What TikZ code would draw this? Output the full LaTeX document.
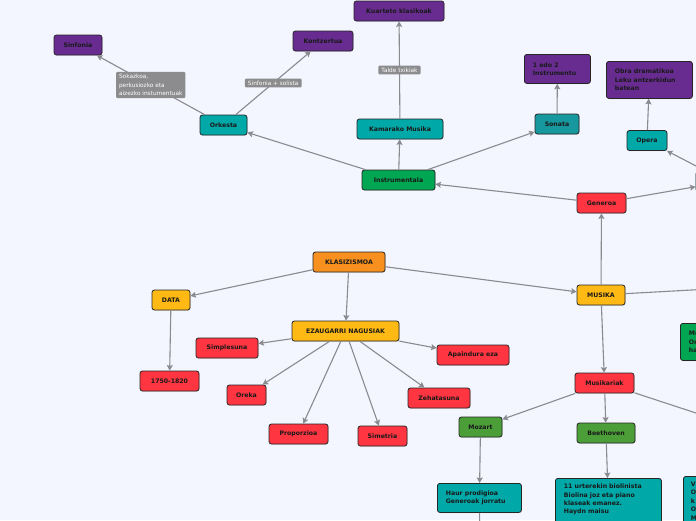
\documentclass[tikz,border=0pt]{standalone}
\usepackage{fontspec}
\setmainfont{DejaVu Sans}
\usetikzlibrary{shadows,arrows.meta}
\definecolor{bg}{HTML}{F3F6FF}
\definecolor{cpurp}{HTML}{682C91}
\definecolor{cteal}{HTML}{00A8A8}
\definecolor{cteal2}{HTML}{17979E}
\definecolor{cgrn}{HTML}{00A651}
\definecolor{cdgrn}{HTML}{4C9F38}
\definecolor{cred}{HTML}{FF3541}
\definecolor{corng}{HTML}{F7901E}
\definecolor{cyel}{HTML}{FFB914}
\definecolor{cedge}{HTML}{8A8A8F}
\definecolor{clbl}{HTML}{8C8C8E}
\begin{document}
\begin{tikzpicture}[x=1pt,y=-1pt,
  box/.style={draw=black!85, line width=0.8pt, rounded corners=2.5pt,
    font=\fontsize{6.2}{8.4}\selectfont\bfseries, text=black!90,
    inner xsep=0pt, inner ysep=0pt, minimum height=20pt,
    drop shadow={shadow xshift=0.5pt, shadow yshift=-0.7pt, opacity=0.3}},
  mbox/.style={box, align=left, inner xsep=8.5pt, inner ysep=5.5pt, anchor=north west},
  purp/.style={fill=cpurp}, teal/.style={fill=cteal}, teal2/.style={fill=cteal2},
  grn/.style={fill=cgrn}, dgrn/.style={fill=cdgrn}, redb/.style={fill=cred},
  orng/.style={fill=corng}, yel/.style={fill=cyel},
  arr/.style={draw=cedge, line width=1.1pt, -{Stealth[length=5.5pt,width=6pt,inset=1pt]}},
  lbl/.style={fill=clbl, text=white, font=\fontsize{5.8}{8.6}\selectfont,
    inner xsep=3pt, inner ysep=2.2pt, align=left, rounded corners=1pt}
]
\useasboundingbox (0,0) rectangle (696,520);
\fill[bg] (0,0) rectangle (696,520);
\clip (0,0) rectangle (696,520);

% nodes
\node[box,orng,minimum width=72pt] (klas) at (349,262) {KLASIZISMOA};
\node[box,yel,minimum width=38pt] (data) at (171,300) {DATA};
\node[box,yel,minimum width=107pt] (ezau) at (345.5,331) {EZAUGARRI NAGUSIAK};
\node[box,redb,minimum width=62pt] (simp) at (227,348) {Simplesuna};
\node[box,redb,minimum width=59pt] (years) at (169.5,381) {1750-1820};
\node[box,redb,minimum width=39pt] (oreka) at (246.5,395) {Oreka};
\node[box,redb,minimum width=59pt] (prop) at (298.5,434) {Proporzioa};
\node[box,redb,minimum width=49pt] (sime) at (382.5,436) {Simetria};
\node[box,redb,minimum width=62pt] (zeha) at (439,398) {Zehatasuna};
\node[box,redb,minimum width=72pt] (apai) at (473,355) {Apaindura eza};
\node[box,yel,minimum width=48pt] (musika) at (601,295) {MUSIKA};
\node[box,redb,minimum width=59pt] (musikariak) at (604.5,383) {Musikariak};
\node[box,dgrn,minimum width=43pt] (mozart) at (480.5,427) {Mozart};
\node[box,dgrn,minimum width=58pt] (beet) at (606,433) {Beethoven};
\node[mbox,teal,text width=67pt,minimum height=29pt,inner ysep=0pt] (haur) at (437,483) {Haur prodigioa\\Generoak jorratu};
\node[mbox,teal,text width=89pt] (urte) at (555,478) {11 urterekin biolinista\\Biolina joz eta piano\\klaseak emanez.\\Haydn maisu\\\rule{0pt}{10pt}};
\node[mbox,teal,text width=50pt,inner xsep=7.5pt] (vnode) at (683,476) {V\\O\\k\\O\\M};
\node[mbox,grn,text width=50pt,minimum height=37pt,inner ysep=0pt] (munode) at (680,323) {Mu\\Or\\ha};
\node[box,redb,minimum width=49pt] (generoa) at (601.5,203) {Generoa};
\node[box,teal,minimum width=60pt,anchor=west] (rgen) at (695.5,181.5) {};
\node[box,grn,minimum width=73pt] (instr) at (398.5,180) {Instrumentala};
\node[box,teal,minimum width=86pt] (kama) at (400,129) {Kamarako Musika};
\node[box,teal2,minimum width=44pt] (sonata) at (557,124) {Sonata};
\node[box,teal,minimum width=40pt] (opera) at (647,140.5) {Opera};
\node[mbox,purp,text width=69pt,minimum height=37pt,inner ysep=0pt] (obra) at (606,61) {Obra dramatikoa\\Leku antzerkidun\\batean};
\node[mbox,purp,text width=49pt,minimum height=29pt,inner ysep=0pt] (edo) at (524,54) {1 edo 2\\Instrumentu};
\node[box,purp,minimum width=90pt] (kuar) at (399,11) {Kuarteto klasikoak};
\node[box,teal,minimum width=47pt] (orkesta) at (223.5,125) {Orkesta};
\node[box,purp,minimum width=48pt] (sinf) at (78,45) {Sinfonia};
\node[box,purp,minimum width=60pt] (kont) at (323,41) {Kontzertua};

% off-canvas ends
\coordinate (offmus) at (764,286);
\coordinate (offmusk) at (760,434);
\coordinate (offhaur) at (480,545);

% connectors
\draw[arr] (klas) -- (data);
\draw[arr] (klas) -- (ezau);
\draw[arr] (klas) -- (musika);
\draw[arr] (data) -- (years);
\draw[arr] (ezau) -- (simp);
\draw[arr] (ezau) -- (oreka);
\draw[arr] (ezau) -- (prop);
\draw[arr] (ezau) -- (sime);
\draw[arr] (ezau) -- (zeha);
\draw[arr] (ezau) -- (apai);
\draw[arr] (musika) -- (generoa);
\draw[arr] (musika) -- (offmus);
\draw[arr] (musika) -- (musikariak);
\draw[arr] (musikariak) -- (mozart);
\draw[arr] (musikariak) -- (beet);
\draw[arr] (musikariak) -- (offmusk);
\draw[arr] (mozart) -- (haur);
\draw[arr] (haur) -- (offhaur);
\draw[arr] (beet) -- (urte);
\draw[arr] (generoa) -- (instr);
\draw[arr] (generoa) -- (rgen);
\draw[arr] (rgen) -- (opera);
\draw[arr] (opera) -- (obra);
\draw[arr] (sonata) -- (edo);
\draw[arr] (instr) -- (kama);
\draw[arr] (instr) -- (sonata);
\draw[arr] (instr) -- (orkesta);
\draw[arr] (kama) -- node[lbl] (l3) {Talde txikiak} (kuar);
\draw[arr] (orkesta) -- node[lbl] (l1) {Sokazkoa,\\perkusiozko eta\\aizezko instumentuak} (sinf);
\draw[arr] (orkesta) -- node[lbl] (l2) {Sinfonia + solista} (kont);
\end{tikzpicture}
\end{document}
